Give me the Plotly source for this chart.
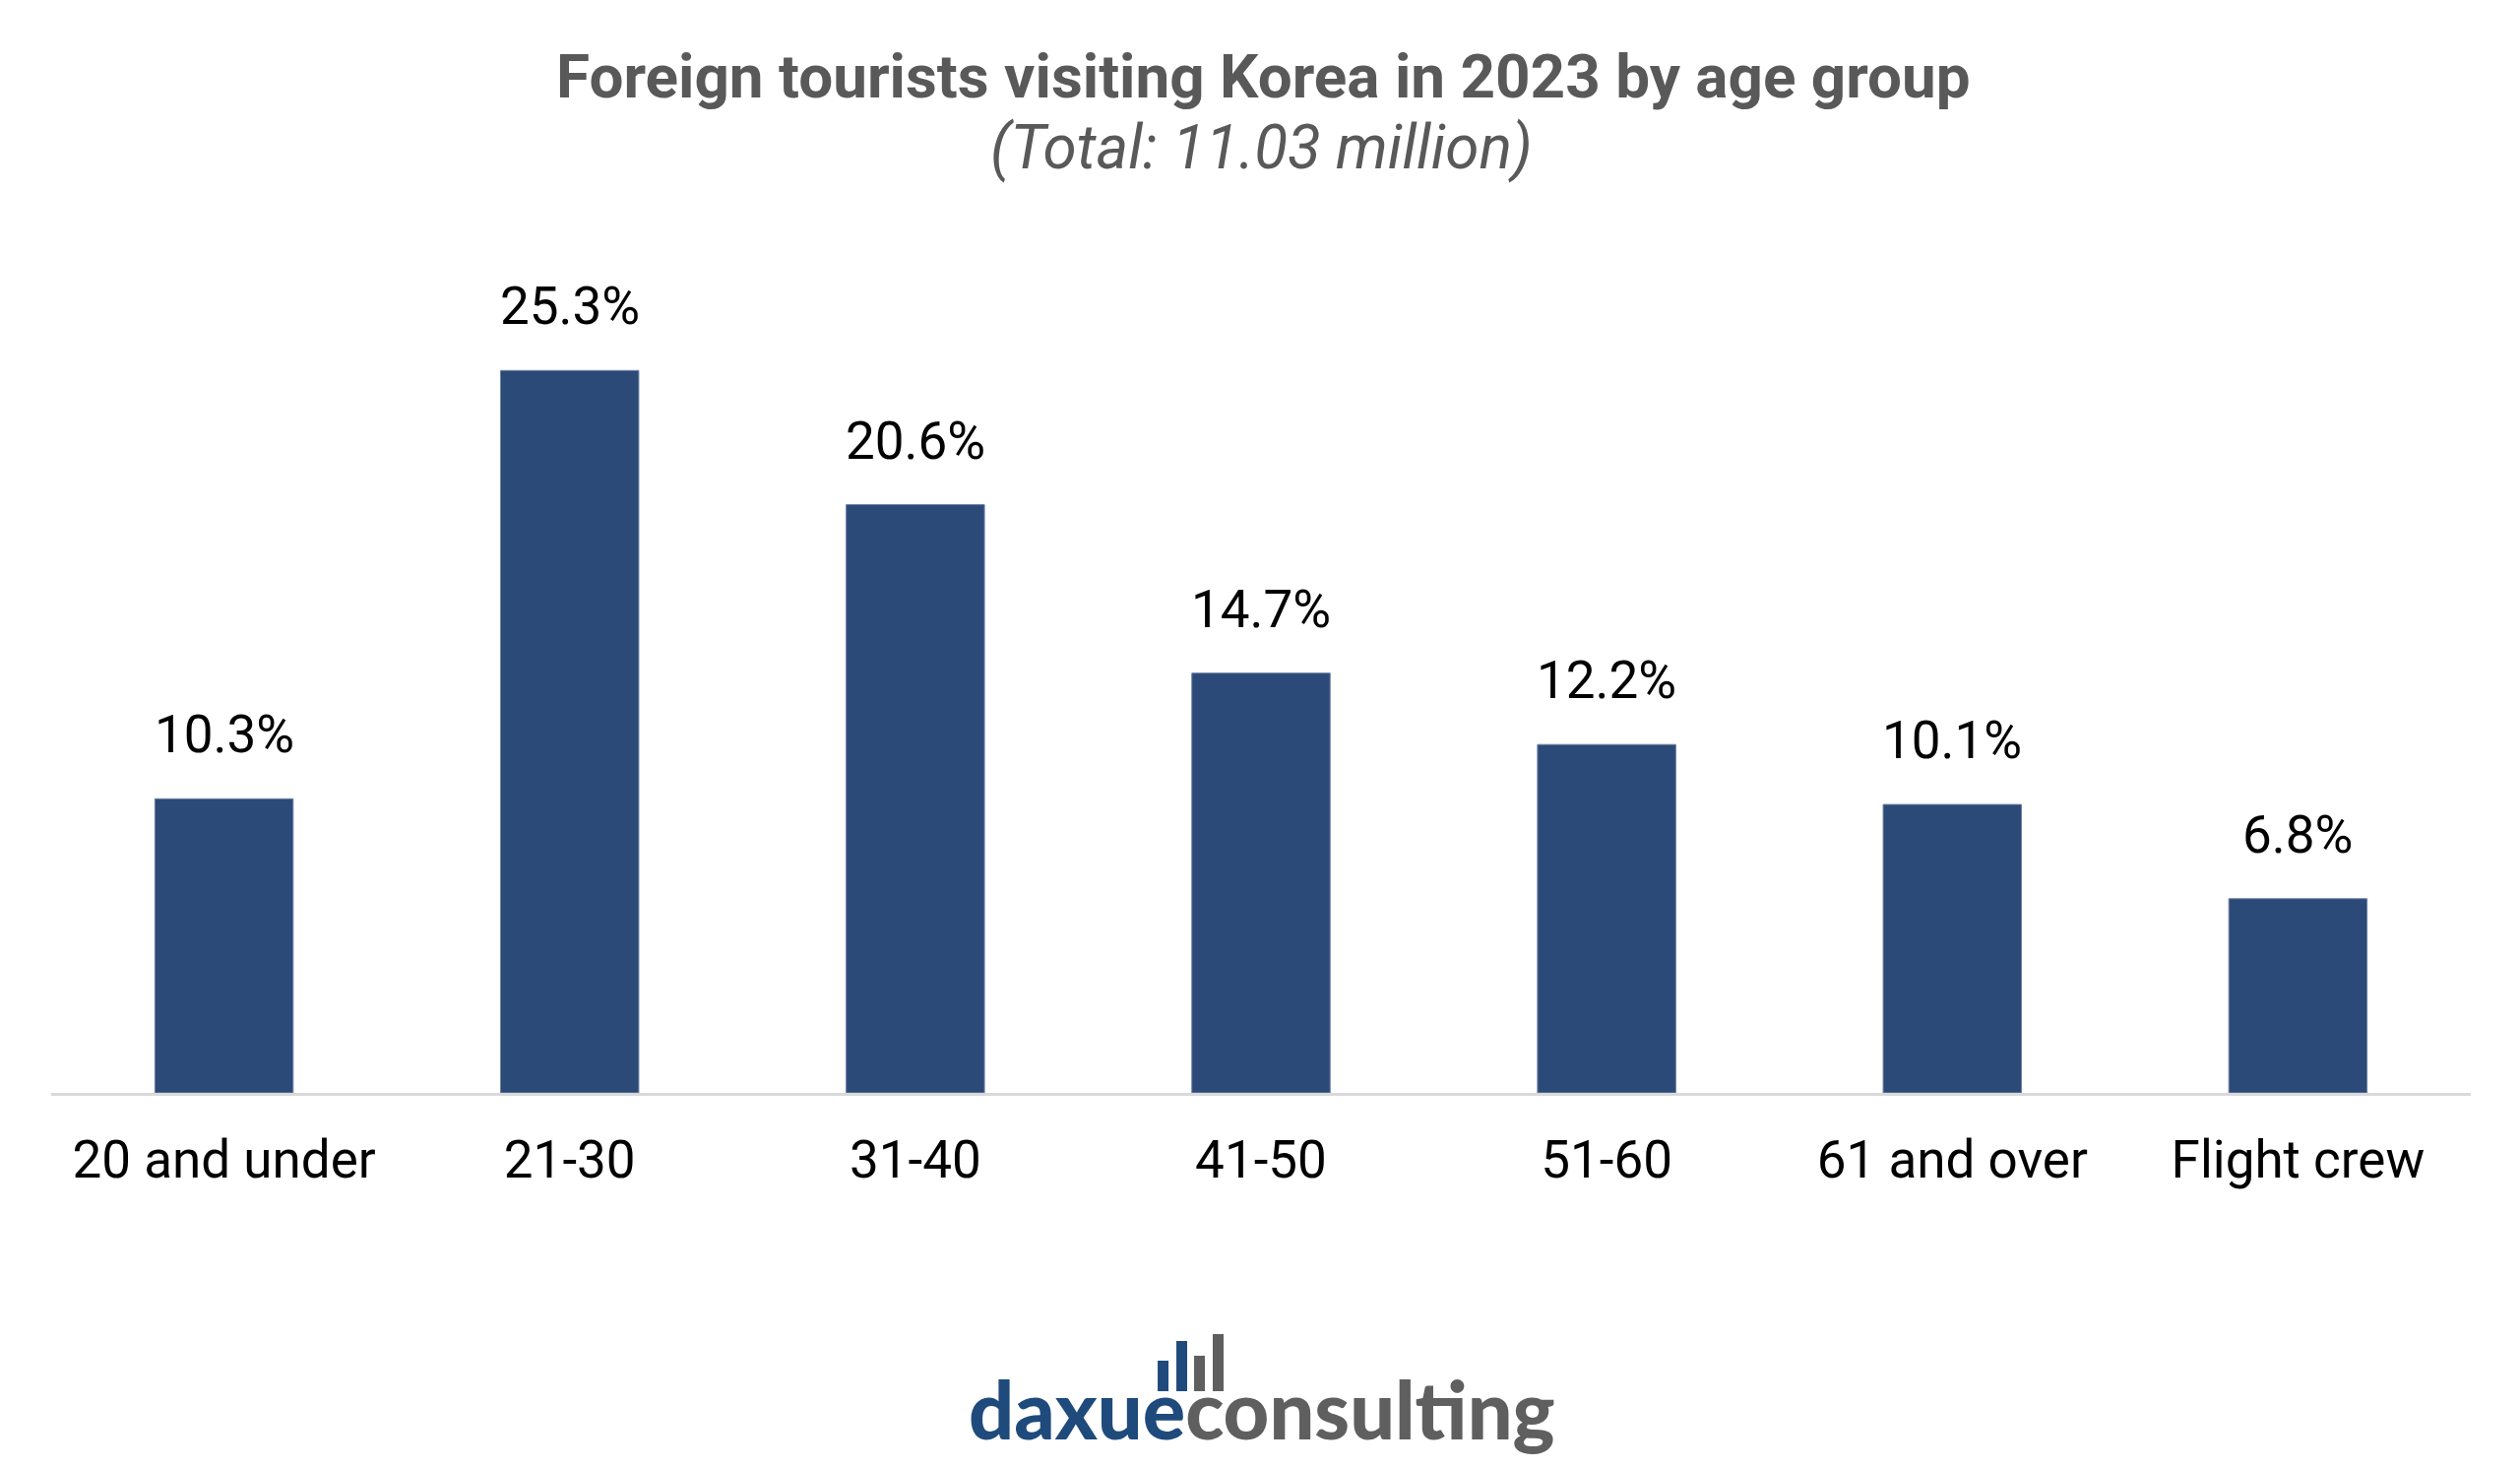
import plotly.graph_objects as go

categories = ["20 and under", "21-30", "31-40", "41-50", "51-60", "61 and over", "Flight crew"]
shares = [10.3, 25.3, 20.6, 14.7, 12.2, 10.1, 6.8]
labels = [f"{v:.1f}%" for v in shares]

title_text = "Foreign tourists visiting Korea in 2023 by age group"
subtitle_text = "(Total: 11.03 million)"

OFF = 8  # page body margin
W, H = 2560 - OFF, 1490 - OFF
# plot area in page pixels
X0, X1, YT, YB = 51.5, 2510.5, 240, 1110
ML = X0 - OFF
MR = W - (X1 - OFF)
MT = YT - OFF
MB = H - (YB - OFF)
PW, PH = X1 - X0, YB - YT


def px_x(p):
    return (p - X0) / PW


def px_y(p):
    return (YB - p) / PH


BAR = "#2b4a78"

fig = go.Figure()
fig.add_trace(go.Bar(
    x=categories, y=shares,
    marker=dict(color=BAR, line=dict(color="#6d80a3", width=1)),
    width=0.4,
    hoverinfo="skip",
))

annotations = []
for c, v, t in zip(categories, shares, labels):
    annotations.append(dict(
        x=c, y=v, xref="x", yref="y", text=t, showarrow=False,
        yanchor="middle", yshift=65,
        font=dict(family="Roboto", size=53, color="#000000"),
    ))

annotations.append(dict(
    x=px_x(1284), y=px_y(77), xref="paper", yref="paper",
    text=f"<b>{title_text}</b>", showarrow=False, xanchor="center", yanchor="middle",
    font=dict(family="Roboto", size=62, color="#595959"),
))
annotations.append(dict(
    x=px_x(1282), y=px_y(149), xref="paper", yref="paper",
    text=f"<i>{subtitle_text}</i>", showarrow=False, xanchor="center", yanchor="middle",
    font=dict(family="Roboto", size=62, color="#595959"),
))
annotations.append(dict(
    x=px_x(1282), y=px_y(1430), xref="paper", yref="paper",
    text="<span style='color:#1f4a7c'>daxue</span><span style='color:#5f5f5f'>consulting</span>",
    showarrow=False, xanchor="center", yanchor="middle",
    font=dict(family="Lato", size=81, color="#5f5f5f", weight=900),
))

shapes = []
logo_bars = [
    (1176, 1187, 1382, "#1f4a7c"),
    (1195, 1206, 1362, "#1f4a7c"),
    (1213, 1224, 1377, "#5f5f5f"),
    (1232, 1243, 1355, "#5f5f5f"),
]
for x0, x1, top, col in logo_bars:
    shapes.append(dict(
        type="rect", xref="paper", yref="paper",
        x0=px_x(x0), x1=px_x(x1), y0=px_y(1413), y1=px_y(top),
        fillcolor=col, line=dict(width=0),
    ))

fig.update_layout(
    width=W, height=H,
    margin=dict(l=ML, r=MR, t=MT, b=MB, pad=0),
    paper_bgcolor="white", plot_bgcolor="white",
    showlegend=False,
    bargap=0.6,
    font=dict(family="Roboto", size=53, color="#000000"),
    annotations=annotations,
    shapes=shapes,
)
fig.update_xaxes(
    showline=True, linecolor="#d9d9d9", linewidth=3,
    showgrid=False, ticks="", tickfont=dict(family="Roboto", size=53, color="#000000"),
    ticklabelstandoff=19, fixedrange=True,
)
fig.update_yaxes(
    range=[0, 30], visible=False, showgrid=False, zeroline=False, fixedrange=True,
)

fig.write_html("out.html")
